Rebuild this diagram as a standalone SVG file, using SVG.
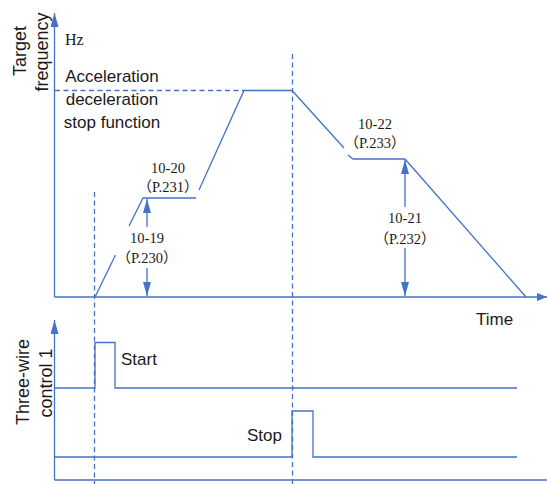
<svg xmlns="http://www.w3.org/2000/svg" width="547" height="484" viewBox="0 0 547 484">
<style>
.ln{fill:none;stroke:#4472C4;stroke-width:1.3}
.ds{fill:none;stroke:#4472C4;stroke-width:1.3;stroke-dasharray:5,3.5}
.ah{fill:#4472C4}
.sans{font-family:"Liberation Sans",Arial,sans-serif;font-size:17px;fill:#1a1a1a}
.rot{font-size:18px}
.ser{font-family:"Liberation Serif","Noto Sans CJK SC",serif;font-size:14.5px;fill:#1a1a1a;text-anchor:middle}
.cjk{font-family:"Noto Sans CJK SC","Noto Sans CJK JP",sans-serif}
</style>
<defs>
<marker id="arr" viewBox="0 0 10 8" refX="10" refY="4" markerWidth="10" markerHeight="8" markerUnits="userSpaceOnUse" orient="auto">
<path d="M0,0 L10,4 L0,8 Z" class="ah"/>
</marker>
<marker id="arrS" viewBox="0 0 14 8" refX="14" refY="4" markerWidth="14" markerHeight="8" markerUnits="userSpaceOnUse" orient="auto">
<path d="M0,0 L14,4 L0,8 Z" class="ah"/>
</marker>
</defs>
<g id="connectors">
<line class="ln" x1="54.5" y1="297" x2="54.5" y2="13" marker-end="url(#arrS)"/>
<line class="ln" x1="54.5" y1="297" x2="547" y2="297" marker-end="url(#arr)"/>
<line class="ln" x1="54.5" y1="480" x2="54.5" y2="320" marker-end="url(#arrS)"/>
<line class="ln" x1="54.5" y1="480" x2="547" y2="480"/>
<line class="ds" x1="55" y1="90.5" x2="244" y2="90.5"/>
<line class="ds" x1="94.5" y1="192" x2="94.5" y2="484"/>
<line class="ds" x1="292.5" y1="54" x2="292.5" y2="484"/>
<polyline class="ln" points="95,297 115.5,255"/>
<polyline class="ln" points="129,226 143,198 196,198"/>
<polyline class="ln" points="199,190 244,90.5 292,90.5 344,148"/>
<polyline class="ln" points="348,155 353,159 405,159 526,297"/>
<line class="ln" x1="147" y1="227" x2="147" y2="199" marker-end="url(#arrS)"/>
<line class="ln" x1="147" y1="268" x2="147" y2="296" marker-end="url(#arrS)"/>
<line class="ln" x1="405" y1="207" x2="405" y2="160" marker-end="url(#arrS)"/>
<line class="ln" x1="405" y1="248" x2="405" y2="296" marker-end="url(#arrS)"/>
<polyline class="ln" points="54.5,388 95,388 95,342.5 115,342.5 115,388 517,388"/>
<polyline class="ln" points="54.5,457 292,457 292,411 313,411 313,457 517,457"/>
</g>
<g id="labels">
<text class="sans rot" transform="translate(26,51) rotate(-90)" text-anchor="middle">Target</text>
<text class="sans rot" transform="translate(48,52) rotate(-90)" text-anchor="middle">frequency</text>
<text class="sans rot" transform="translate(29,382) rotate(-90)" text-anchor="middle">Three-wire</text>
<text class="sans rot" transform="translate(52,383) rotate(-90)" text-anchor="middle">control 1</text>
<text x="65" y="45" style="font-family:'Liberation Serif',serif;font-size:16px;fill:#1a1a1a">Hz</text>
<text class="sans" x="112" y="82" text-anchor="middle">Acceleration</text>
<text class="sans" x="112" y="105" text-anchor="middle">deceleration</text>
<text class="sans" x="112" y="128" text-anchor="middle">stop function</text>
<text class="sans" x="476" y="325">Time</text>
<text class="sans" x="121" y="365">Start</text>
<text class="sans" x="247" y="441">Stop</text>
</g>
<g id="param-1020"><text class="ser" x="168" y="173">10-20</text><text class="ser" x="168" y="192"><tspan class="cjk">（</tspan>P.231<tspan class="cjk">）</tspan></text></g>
<g id="param-1019"><text class="ser" x="147" y="243">10-19</text><text class="ser" x="147" y="263"><tspan class="cjk">（</tspan>P.230<tspan class="cjk">）</tspan></text></g>
<g id="param-1022"><text class="ser" x="375" y="129">10-22</text><text class="ser" x="375" y="148"><tspan class="cjk">（</tspan>P.233<tspan class="cjk">）</tspan></text></g>
<g id="param-1021"><text class="ser" x="405" y="223">10-21</text><text class="ser" x="405" y="244"><tspan class="cjk">（</tspan>P.232<tspan class="cjk">）</tspan></text></g>
</svg>
